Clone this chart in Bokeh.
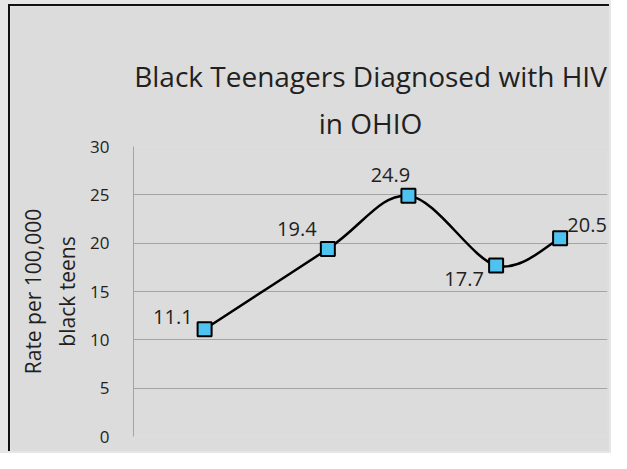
from bokeh.plotting import figure
from bokeh.models import Range1d, FixedTicker, ColumnDataSource, LabelSet, Title
from bokeh.layouts import column
from bokeh.core.properties import value
from bokeh.embed import file_html
from bokeh.resources import INLINE

# ---- data ----
x_values = [1.5, 4.1, 5.8, 7.65, 9.0]          # hidden x scale 0..10 (no x labels in chart)
rates = [11.1, 19.4, 24.9, 17.7, 20.5]
rate_labels = ["11.1", "19.4", "24.9", "17.7", "20.5"]
y_ticks = [0, 5, 10, 15, 20, 25, 30]
title_line1 = "Black Teenagers Diagnosed with HIV"
title_line2 = "in OHIO"
y_label = "Rate per 100,000\nblack teens"

# ---- style ----
BG = "#dcdcdd"
GRID = "#a4a4a4"
TXT = "#231f20"
FONT = "Open Sans"

p = figure(width=601, height=447, output_backend="svg", toolbar_location=None,
           x_range=Range1d(0, 10), y_range=Range1d(0, 30),
           min_border_left=123, min_border_right=4, min_border_top=140, min_border_bottom=17,
           background_fill_color=BG, border_fill_color=BG)
p.styles = {"border-top": "2px solid #111111", "border-left": "2px solid #111111"}
p.outline_line_color = None

for txt, stand in [(title_line2, 10), (title_line1, 4)]:
    t = Title(text=txt, align="center", text_font=FONT, text_font_size="28px",
              text_font_style="normal", text_color=TXT, standoff=stand)
    p.add_layout(t, "above")

p.xaxis.visible = False
p.xgrid.visible = False
p.ygrid.grid_line_color = GRID
p.ygrid.grid_line_width = 1

yax = p.yaxis[0]
yax.ticker = FixedTicker(ticks=y_ticks)
yax.axis_line_color = GRID
yax.major_tick_line_color = None
yax.minor_tick_line_color = None
yax.major_label_standoff = 18
yax.major_label_text_font = FONT
yax.major_label_text_font_size = "17px"
yax.major_label_text_color = TXT
yax.axis_label = y_label
yax.axis_label_standoff = 6
yax.axis_label_text_font = FONT
yax.axis_label_text_font_size = "21px"
yax.axis_label_text_font_style = "normal"
yax.axis_label_text_color = TXT

# smooth curve through the points: Catmull-Rom segments drawn as Bezier glyphs
n = len(x_values)
x0, y0, x1, y1, cx0, cy0, cx1, cy1 = [], [], [], [], [], [], [], []
for i in range(n - 1):
    ip, inn = max(i - 1, 0), min(i + 2, n - 1)
    x0.append(x_values[i]); y0.append(rates[i])
    x1.append(x_values[i + 1]); y1.append(rates[i + 1])
    cx0.append(x_values[i] + (x_values[i + 1] - x_values[ip]) / 6)
    cy0.append(rates[i] + (rates[i + 1] - rates[ip]) / 6)
    cx1.append(x_values[i + 1] - (x_values[inn] - x_values[i]) / 6)
    cy1.append(rates[i + 1] - (rates[inn] - rates[i]) / 6)
p.bezier(x0=x0, y0=y0, x1=x1, y1=y1, cx0=cx0, cy0=cy0, cx1=cx1, cy1=cy1,
         line_color="black", line_width=2.5)

src = ColumnDataSource(dict(x=x_values, y=rates, lab=rate_labels,
                            dx=[-12, -31, -18, -32, 27], dy=[5, 13, 14, -21, 6],
                            al=["right", "center", "center", "center", "center"]))
p.scatter("x", "y", source=src, marker="square", size=14, fill_color="#4fc3f0",
          line_color="black", line_width=2)
labels = LabelSet(x="x", y="y", text="lab", source=src, x_offset="dx", y_offset="dy",
                  text_align="al", text_baseline="alphabetic",
                  text_font=value(FONT), text_font_size="20px", text_color=TXT)
p.add_layout(labels)

page = column(p, width=611, height=453,
              styles={"padding-left": "8px", "padding-top": "4px",
                      "background-color": "#e6e6e6", "box-sizing": "border-box"})

open("out.html", "w").write(file_html(page, INLINE))
